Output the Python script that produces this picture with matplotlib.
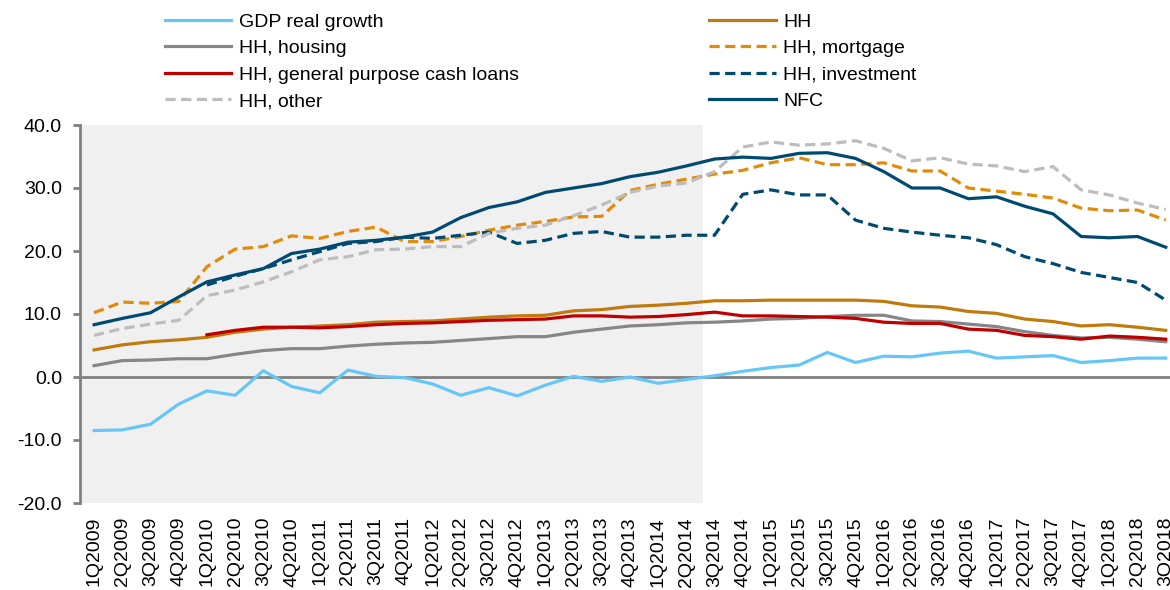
import numpy as np
import matplotlib
matplotlib.use("Agg")
import matplotlib.pyplot as plt

plt.rcParams['font.family'] = ['Liberation Sans', 'DejaVu Sans']

quarters = [f"{q}Q{y}" for y in range(2009, 2019) for q in range(1, 5)][:39]

gdp = [-8.5, -8.4, -7.5, -4.3, -2.2, -2.9, 1.0, -1.5, -2.5, 1.1,
       0.1, -0.1, -1.1, -2.9, -1.7, -3.0, -1.3, 0.1, -0.7, 0.0,
       -1.0, -0.4, 0.2, 0.9, 1.5, 1.9, 3.9, 2.3, 3.3, 3.2,
       3.8, 4.1, 3.0, 3.2, 3.4, 2.3, 2.6, 3.0, 3.0]
hh = [4.3, 5.1, 5.6, 5.9, 6.3, 7.1, 7.6, 7.9, 8.1, 8.3,
      8.7, 8.8, 8.9, 9.2, 9.5, 9.7, 9.8, 10.5, 10.7, 11.2,
      11.4, 11.7, 12.1, 12.1, 12.2, 12.2, 12.2, 12.2, 12.0, 11.3,
      11.1, 10.4, 10.1, 9.2, 8.8, 8.1, 8.3, 7.9, 7.4]
hh_housing = [1.8, 2.6, 2.7, 2.9, 2.9, 3.6, 4.2, 4.5, 4.5, 4.9,
              5.2, 5.4, 5.5, 5.8, 6.1, 6.4, 6.4, 7.1, 7.6, 8.1,
              8.3, 8.6, 8.7, 8.9, 9.2, 9.3, 9.6, 9.8, 9.8, 8.9,
              8.8, 8.4, 8.0, 7.2, 6.6, 6.2, 6.3, 6.0, 5.6]
hh_mortgage = [10.2, 11.9, 11.7, 12.0, 17.5, 20.3, 20.7, 22.4, 22.0, 23.1,
               23.8, 21.5, 21.5, 22.3, 23.3, 24.1, 24.7, 25.4, 25.5, 29.6,
               30.6, 31.4, 32.2, 32.8, 34.0, 34.8, 33.7, 33.7, 34.0, 32.7,
               32.7, 30.0, 29.5, 29.0, 28.4, 26.8, 26.4, 26.5, 24.9]
hh_cash = [np.nan, np.nan, np.nan, np.nan, 6.7, 7.4, 7.9, 7.9, 7.8, 8.0,
           8.3, 8.5, 8.6, 8.8, 9.0, 9.1, 9.2, 9.7, 9.7, 9.5,
           9.6, 9.9, 10.3, 9.7, 9.7, 9.6, 9.5, 9.3, 8.7, 8.5,
           8.5, 7.6, 7.4, 6.6, 6.4, 6.0, 6.5, 6.3, 6.0]
hh_investment = [np.nan, np.nan, np.nan, np.nan, 14.6, 16.0, 17.2, 18.6, 19.9, 21.2,
                 21.5, 22.2, 22.0, 22.5, 23.0, 21.2, 21.7, 22.8, 23.1, 22.2,
                 22.2, 22.5, 22.5, 29.0, 29.7, 28.9, 28.9, 24.9, 23.6, 23.0,
                 22.5, 22.1, 21.0, 19.1, 18.0, 16.6, 15.8, 15.0, 12.2]
hh_other = [6.6, 7.7, 8.4, 9.0, 12.9, 13.8, 15.1, 16.7, 18.6, 19.1,
            20.2, 20.3, 20.7, 20.7, 22.8, 23.6, 24.1, 25.6, 27.3, 29.3,
            30.3, 30.8, 32.6, 36.5, 37.3, 36.8, 37.0, 37.5, 36.3, 34.3,
            34.8, 33.8, 33.5, 32.6, 33.4, 29.7, 28.9, 27.6, 26.6]
nfc = [8.3, 9.3, 10.2, 12.7, 15.1, 16.2, 17.2, 19.6, 20.3, 21.4,
       21.7, 22.2, 23.0, 25.3, 26.9, 27.8, 29.3, 30.0, 30.7, 31.8,
       32.5, 33.5, 34.6, 34.9, 34.7, 35.5, 35.6, 34.7, 32.6, 30.0,
       30.0, 28.3, 28.6, 27.1, 25.9, 22.3, 22.1, 22.3, 20.6]

x = np.arange(len(quarters))

fig = plt.figure(figsize=(11.7, 5.9), dpi=100)
ax = fig.add_axes([80 / 1170, 1 - 503 / 590, 1 - 80 / 1170, (503 - 125) / 590])

# shaded period
ax.axvspan(-0.5, 21.6, color='#F0F0F0', zorder=0, lw=0)
ax.axhline(0, color='#808080', lw=2, zorder=1)

lw = 2.3
dash = (3.2, 1.7)
l_gdp, = ax.plot(x, gdp, color='#66C7F7', lw=lw, label='GDP real growth')
l_hh, = ax.plot(x, hh, color='#C07A0E', lw=lw, label='HH')
l_hous, = ax.plot(x, hh_housing, color='#868686', lw=lw, label='HH, housing')
l_mort, = ax.plot(x, hh_mortgage, color='#E08C0A', lw=lw, dashes=dash, label='HH, mortgage')
l_cash, = ax.plot(x, hh_cash, color='#C00000', lw=lw, label='HH, general purpose cash loans')
l_inv, = ax.plot(x, hh_investment, color='#004A72', lw=lw, dashes=dash, label='HH, investment')
l_oth, = ax.plot(x, hh_other, color='#BDBDBF', lw=lw, dashes=dash, label='HH, other')
l_nfc, = ax.plot(x, nfc, color='#004A72', lw=lw, label='NFC')

ax.set_xlim(-0.5, 38.15)
ax.set_ylim(-20, 40)
ax.set_yticks(np.arange(-20, 41, 10))
ax.set_yticklabels([f"{v:.1f}" for v in np.arange(-20, 41, 10)])
ax.set_xticks(x)
ax.set_xticklabels(quarters, rotation=90, va='top', ha='center')

for s in ['top', 'right', 'bottom']:
    ax.spines[s].set_visible(False)
ax.spines['left'].set_color('#808080')
ax.spines['left'].set_linewidth(2)
ax.tick_params(axis='y', length=5, width=2, color='#808080', pad=8, labelsize=14)
ax.tick_params(axis='x', length=0, pad=10, labelsize=14)

handles = [l_gdp, l_hous, l_cash, l_oth, l_hh, l_mort, l_inv, l_nfc]
fig.legend(handles=handles, labels=[h.get_label() for h in handles],
           ncol=2, loc='upper left', bbox_to_anchor=(165 / 1170, 1 - 13 / 590),
           frameon=False, fontsize=14, handlelength=3.4, handletextpad=0.4,
           labelspacing=0.46, columnspacing=9.8, borderpad=0, borderaxespad=0)

fig.savefig('out.png', dpi=100)
